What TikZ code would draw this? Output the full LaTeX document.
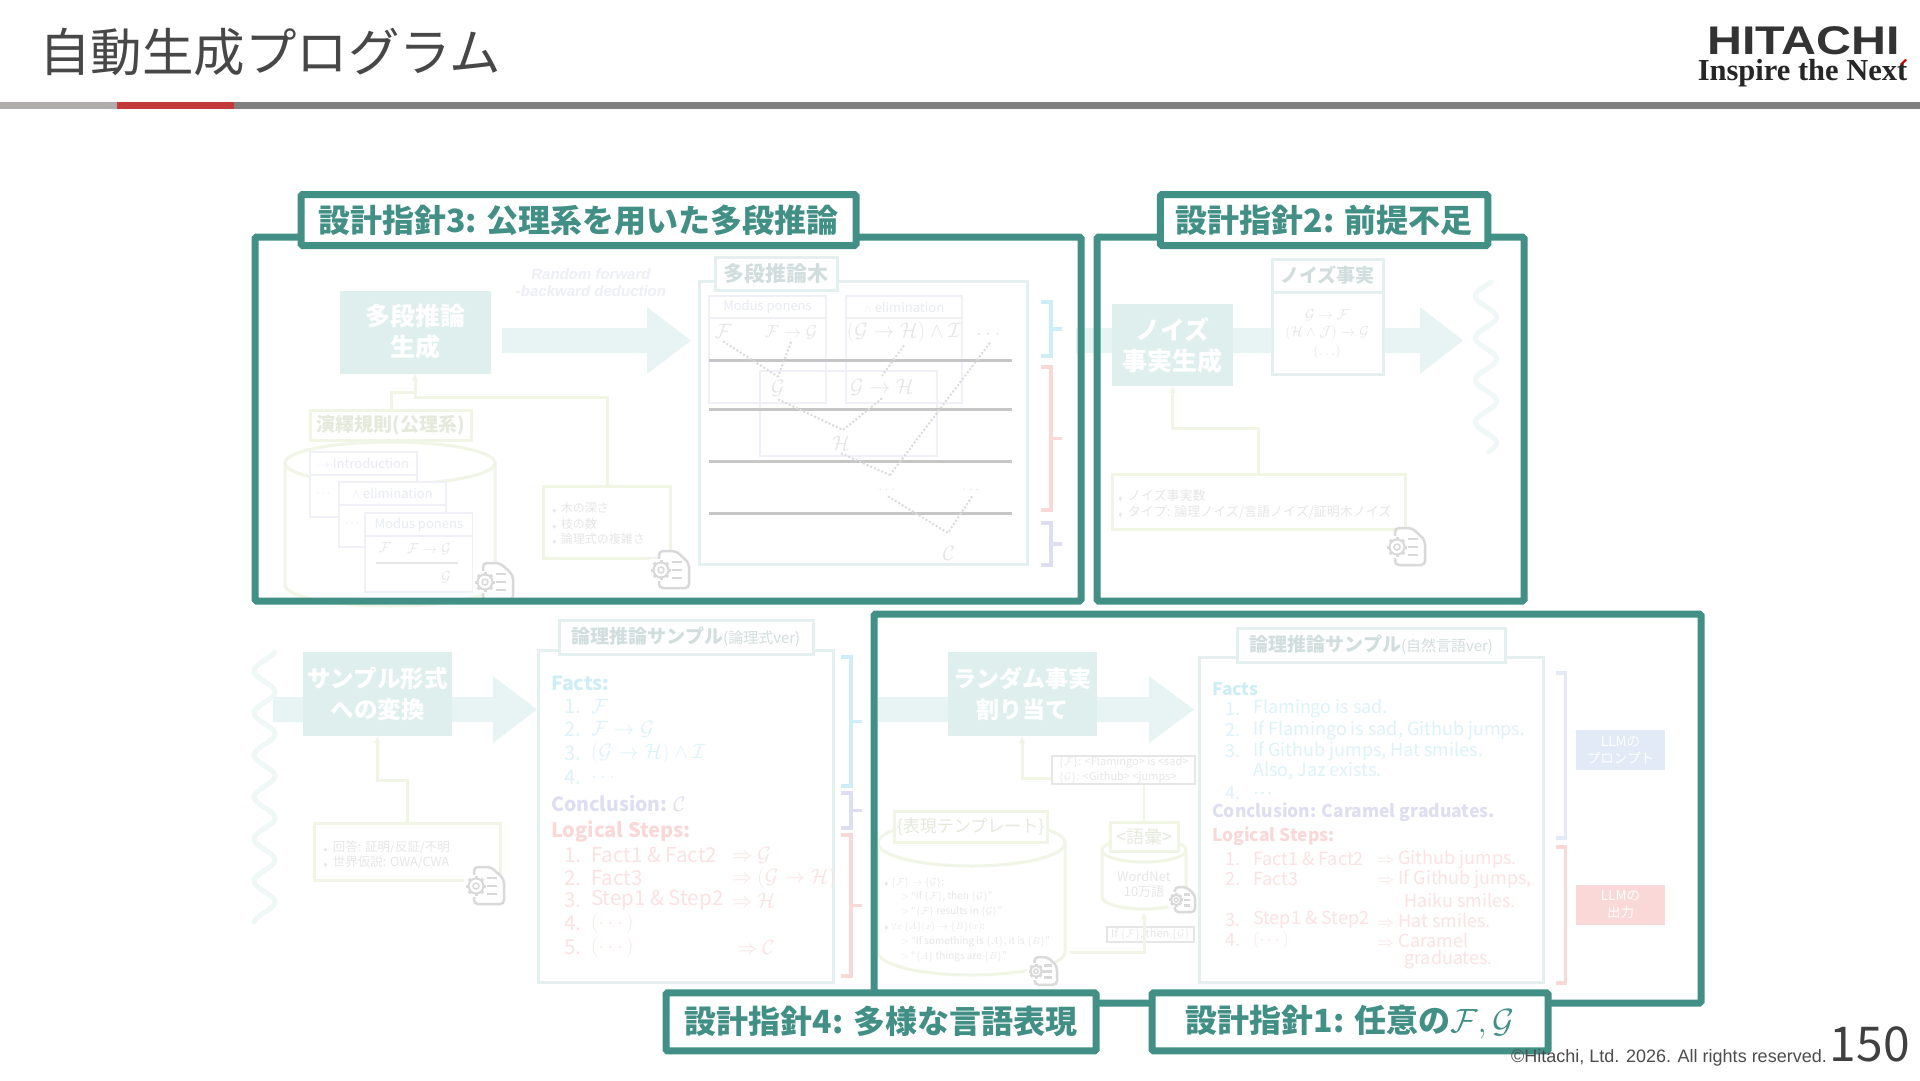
\documentclass[tikz,border=0pt]{standalone}
\usepackage{amsmath,amssymb}
\usepackage{fontspec}
\usepackage{xcolor}
\usepackage{tikz}
\usetikzlibrary{arrows.meta,calc,positioning}
\setmainfont{Noto Sans CJK JP}
\newfontfamily\arialfont{Liberation Sans}
\newfontfamily\timesfont{Liberation Serif}
\definecolor{guideteal}{HTML}{418F85}
\definecolor{procfill}{HTML}{DFEFEE}
\definecolor{flowfill}{HTML}{E8F4F3}
\definecolor{boxline}{HTML}{E4F0EF}
\definecolor{feedgreen}{HTML}{F0F5E6}
\definecolor{paletext}{HTML}{E6E6E6}
\definecolor{cardline}{HTML}{F0F1F8}
\definecolor{cardtext}{HTML}{E8EAF5}
\definecolor{factcyan}{HTML}{CFEDF7}
\definecolor{factline}{HTML}{DDF2F9}
\definecolor{conclav}{HTML}{DEDEF2}
\definecolor{steppink}{HTML}{FBD8D8}
\definecolor{stepline}{HTML}{FCE2E2}
\definecolor{promptblue}{HTML}{E1EAF6}
\definecolor{icongray}{HTML}{D9D9D9}
\definecolor{barred}{HTML}{C23B3A}
\definecolor{barpale}{HTML}{B0ACAC}
\newcommand{\sz}[2]{\fontsize{#1}{#2}\selectfont}
\newcommand{\bulletmark}{{\tiny$\blacklozenge$}}
\newcommand{\blockflow}[4]{\fill[flowfill] (#1,#4-12.5) -- (#2,#4-12.5) -- (#2,#4-33.5) -- (#3,#4) -- (#2,#4+33.5) -- (#2,#4+12.5) -- (#1,#4+12.5) -- cycle;}
\newcommand{\wavecol}[4]{\draw[flowfill!70!white,line width=5,line cap=round] plot[domain=#3:#4,samples=120,smooth] ({#1+10.5*cos((\x-#2)/42*360)},\x);}
\newcommand{\sidebrkt}[4]{\draw[#4,line width=3.5] (#1,#2) -| (#1+10,#3) -- (#1,#3) (#1+10,{(#2+#3)/2}) -- (#1+21,{(#2+#3)/2});}
\newcommand{\drum}[6]{\draw[feedgreen,line width=3,fill=white] (#1,#3) -- (#1,#4) arc[start angle=180,end angle=0,x radius=#5,y radius=#6] -- (#2,#3);
  \draw[feedgreen,line width=3] ({(#1+#2)/2},#3) ellipse[x radius=#5,y radius=#6];}
\tikzset{
  guideframe/.style={guideteal,line width=7,rounded corners=1.5},
  guidelabel/.style={draw=guideteal,line width=7,fill=white,text=guideteal,inner sep=0,rounded corners=1.5,font=\sz{32}{36}\bfseries},
  procbox/.style={fill=procfill,text=white,align=center,inner sep=0,font=\sz{25}{31}\bfseries},
  titlebox/.style={draw=boxline,line width=3,fill=white,text=procfill!85!gray,inner sep=0,font=\sz{#1}{#1}\bfseries},
  bodybox/.style={draw=boxline,line width=3,fill=white,inner sep=0},
  parambox/.style={draw=feedgreen,line width=3,fill=white,inner sep=0},
  feed/.style={feedgreen,line width=3,-{Latex[length=7,width=7]}},
  plainfeed/.style={feedgreen,line width=3},
  greentitle/.style={draw=feedgreen,line width=3,fill=white,text=feedgreen!90!gray,inner sep=0,font=\sz{#1}{#1}},
  note/.style={text=paletext,anchor=west,inner sep=0,font=\sz{#1}{#1}},
  formula/.style={text=paletext,inner sep=3,font=\sz{#1}{#1}},
  cardhead/.style={draw=cardline,line width=1.5,fill=white,text=cardtext,inner sep=0,font=\sz{#1}{#1}},
  cardbody/.style={draw=cardline,line width=1.5,fill=white,inner sep=0},
  slotbox/.style={draw=paletext,line width=1.5,fill=white,text=paletext,inner sep=0,align=left,font=\sz{11}{15}},
  stepline/.style={gray!45,line width=3},
  prooflink/.style={gray!28,line width=2,dotted},
  geardoc/.pic={
    \draw[icongray,line width=2.5,fill=white,rounded corners=4] (10,0) -- (27,0) -- (40,12) -- (40,37) -- (10,37) -- cycle;
    \fill[white] (0,8) rectangle (12,30);
    \foreach \a in {0,45,...,315} \draw[icongray,line width=3] (12,19) ++(\a:7) -- ++(\a:3);
    \draw[icongray,line width=2,fill=white] (12,19) circle[radius=7.5];
    \draw[icongray,line width=1.5] (12,19) circle[radius=3];
    \foreach \y in {11,19,27} \draw[icongray,line width=2.5] (23,\y) -- (33,\y);
  },
}
\begin{document}
\begin{tikzpicture}[x=1pt,y=-1pt,>=Latex]
  \useasboundingbox (0,0) rectangle (1920,1080);
  \fill[white] (0,0) rectangle (1920,1080);

  % header
  \node[anchor=west,inner sep=0,text=black!72,font=\sz{51.5}{52}] (title) at (39,52) {自動生成プログラム};
  \fill[barpale] (0,102) rectangle (117,109);
  \fill[barred] (117,102) rectangle (234,109);
  \fill[gray] (234,102) rectangle (1920,109);
  \node[inner sep=0,text=black!80,font=\arialfont\sz{40}{40}\bfseries] (logotop) at (1803.5,41) {\scalebox{1.21}[1]{HITACHI}};
  \node[inner sep=0,text=black!85,font=\timesfont\sz{30.5}{30.5}\bfseries] (logosub) at (1802.5,73) {Inspire the Next};
  \fill[red!80!black] (1900,64) -- (1905,59) -- (1907,60) -- (1902,65) -- cycle;

  % multi-step tree
  \node[procbox,minimum width=151,minimum height=83] (gentree) at (415,332) {多段推論\\生成};
  \blockflow{502}{647}{691}{340.5}
  \node[inner sep=0,align=center,text=cardtext!80!white,font=\arialfont\sz{15}{17}\bfseries\itshape] (deduct) at (591,283) {Random forward\\-backward deduction};
  \node[bodybox,minimum width=328,minimum height=283] (treebody) at (863,422.5) {};
  \node[titlebox=21,minimum width=122,minimum height=33] (treetitle) at (776,273.5) {多段推論木};
  \node[cardhead=13,minimum width=117,minimum height=22] (mphead) at (767.5,307) {Modus ponens};
  \node[cardbody,minimum width=117,minimum height=85] (mpbody) at (767.5,360.5) {};
  \node[cardhead=13,minimum width=116,minimum height=22] (elhead) at (904,307) {$\land$ elimination};
  \node[cardbody,minimum width=116,minimum height=85] (elbody) at (904,360.5) {};
  \draw[cardline,line width=1.5] (760,371) rectangle (937,456);
  \foreach \y in {360,409,461,513} \draw[stepline] (709,\y) -- (1012,\y);
  \node[formula=20] (tF) at (723,331) {$\mathcal{F}$};
  \node[formula=19] (tFG) at (791,332) {$\mathcal{F}\to\mathcal{G}$};
  \node[formula=20] (tGHI) at (904,332) {$(\mathcal{G}\to\mathcal{H})\land\mathcal{I}$};
  \node[formula=20] (tdotsa) at (990,335) {$\cdots$};
  \node[formula=20] (tG) at (778,388) {$\mathcal{G}$};
  \node[formula=20] (tGH) at (882,387) {$\mathcal{G}\to\mathcal{H}$};
  \node[formula=20] (tH) at (841,443) {$\mathcal{H}$};
  \node[formula=14] (tdotsb) at (888,490) {$\cdots$};
  \node[formula=14] (tdotsc) at (972,490) {$\cdots$};
  \node[formula=20] (tC) at (949,553) {$\mathcal{C}$};
  \coordinate (tjoina) at (843,430);
  \coordinate (tjoinb) at (890,475);
  \coordinate (tjoinc) at (948,533);
  \draw[prooflink] (tF.south) -- (tG.north);
  \draw[prooflink] (tFG.south) -- (tG.north);
  \draw[prooflink] (tGHI.south) -- (tGH.north);
  \draw[prooflink] (tG.south) -- (tjoina);
  \draw[prooflink] (tGH.south) -- (tjoina);
  \draw[prooflink] (tH.south) -- (tjoinb);
  \draw[prooflink] (tdotsa.south) -- (tjoinb);
  \draw[prooflink] (tdotsb.south) -- (tjoinc);
  \draw[prooflink] (tdotsc.south) -- (tjoinc);
  \sidebrkt{1041}{302}{356}{factcyan}
  \sidebrkt{1041}{367}{510}{steppink}
  \sidebrkt{1041}{523}{565}{conclav}

  % rules and tree parameters
  \drum{285}{495}{463}{585}{105}{21}
  \node[cardhead=13,minimum width=107,minimum height=23] (inhead) at (363.5,463.5) {$\to$ Introduction};
  \node[cardbody,minimum width=107,minimum height=42] (inbody) at (363.5,496) {};
  \node[note=13,text=cardtext] (indots) at (316,494) {$\cdots$};
  \node[cardhead=13,minimum width=107,minimum height=23] (elcard) at (392.5,493.5) {$\land$ elimination};
  \node[cardbody,minimum width=107,minimum height=42] (elcardbody) at (392.5,526) {};
  \node[note=13,text=cardtext] (eldots) at (345,524) {$\cdots$};
  \node[cardhead=13,minimum width=107.5,minimum height=23] (mpcard) at (418.8,524.5) {Modus ponens};
  \node[cardbody,minimum width=107.5,minimum height=56] (mpcardbody) at (418.8,564) {};
  \node[formula=14] (cF) at (385,548) {$\mathcal{F}$};
  \node[formula=14] (cFG) at (429,549) {$\mathcal{F}\to\mathcal{G}$};
  \node[formula=14] (cG) at (446,577) {$\mathcal{G}$};
  \draw[paletext,line width=1.5] (376,563) -- (458,563);
  \node[greentitle=19,minimum width=161,minimum height=30] (ruletitle) at (391,425) {\bfseries 演繹規則(公理系)};
  \node[parambox,minimum width=127,minimum height=72] (treeparam) at (607,522) {};
  \foreach \n/\y/\t in {a/508/木の深さ,b/524/枝の数,c/539/論理式の複雑さ}
    \node[note=12] (treeparam\n) at (552,\y) {\bulletmark\hspace{4pt}\t};
  \coordinate (treebend) at (0,397);
  \coordinate (rulebend) at (0,392);
  \draw[plainfeed] (ruletitle.north) -- (ruletitle.north |- rulebend) -- (gentree.south |- rulebend);
  \draw[feed] (treeparam.north) -- (treeparam.north |- treebend) -| (gentree.south);
  \pic at (473,563) {geardoc};
  \pic at (649,551) {geardoc};

  % noise
  \blockflow{1076}{1420}{1463}{340.5}
  \node[procbox,minimum width=121,minimum height=82] (gennoise) at (1172.5,345) {ノイズ\\事実生成};
  \node[bodybox,minimum width=111,minimum height=82] (noisebody) at (1327.5,333) {};
  \node[titlebox=19,minimum width=111,minimum height=33] (noisetitle) at (1327.5,275.5) {ノイズ事実};
  \node[formula=14] (noisea) at (1327,315) {$\mathcal{G}\to\mathcal{F}$};
  \node[formula=14] (noiseb) at (1327,333) {$(\mathcal{H}\land\mathcal{J})\to\mathcal{G}$};
  \node[formula=14] (noisec) at (1327,352) {$(\ldots)$};
  \wavecol{1486}{317}{282}{452}
  \node[parambox,minimum width=293,minimum height=55] (noiseparam) at (1258.5,501.5) {};
  \foreach \n/\y/\t in {a/496/{ノイズ事実数},b/512/{タイプ: 論理ノイズ/言語ノイズ/証明木ノイズ}}
    \node[note=13] (noiseparam\n) at (1118,\y) {\bulletmark\hspace{5pt}\t};
  \coordinate (noisebend) at (0,428);
  \draw[feed] (noiseparam.north) -- (noiseparam.north |- noisebend) -| (gennoise.south);
  \pic at (1385,528) {geardoc};

  % sample format
  \wavecol{264.5}{692}{652}{922}
  \blockflow{273}{493}{537}{709.5}
  \node[procbox,minimum width=149,minimum height=84,font=\sz{23.5}{31}\bfseries] (genform) at (377.5,694) {サンプル形式\\への変換};
  \node[parambox,minimum width=186,minimum height=57] (formparam) at (407,851.5) {};
  \foreach \n/\y/\t in {a/847/{回答: 証明/反証/不明},b/862/{世界仮説: OWA/CWA}}
    \node[note=12.5] (formparam\n) at (323,\y) {\bulletmark\hspace{5pt}\t};
  \coordinate (formbend) at (0,780);
  \draw[feed] (formparam.north) -- (formparam.north |- formbend) -| (genform.south);
  \pic at (464,867) {geardoc};

  \node[bodybox,minimum width=295,minimum height=332] (logicbody) at (685.5,816) {};
  \node[titlebox=19,minimum width=254,minimum height=34] (logictitle) at (686,637) {論理推論サンプル{\mdseries\sz{15}{15}(論理式ver)}};
  \node[note=19,text=factcyan,font=\sz{19.5}{19.5}\bfseries] (lfacts) at (551,683) {Facts:};
  \foreach \n/\y/\t in {1/706/$\mathcal{F}$,2/729/$\mathcal{F}\to\mathcal{G}$,3/753/$(\mathcal{G}\to\mathcal{H})\land\mathcal{I}$,4/777/$\ldots$} {
    \node[note=20,text=factline] (lfnum\n) at (564,\y) {\n.};
    \node[note=20,text=factline] (lfact\n) at (591,\y) {\t};
  }
  \node[note=19,text=conclav,font=\sz{19.5}{19.5}\bfseries] (lconc) at (551,804) {Conclusion: $\mathcal{C}$};
  \node[note=19,text=steppink,font=\sz{20}{20}\bfseries] (lsteps) at (551,832) {Logical Steps:};
  \foreach \n/\y/\t in {1/855/Fact1 \& Fact2,2/878/Fact3,3/900/Step1 \& Step2,4/923/$(\cdots)$,5/947/$(\cdots)$} {
    \node[note=20.5,text=stepline] (lsnum\n) at (564,\y) {\n.};
    \node[note=20.5,text=stepline] (lstep\n) at (591,\y) {\t};
  }
  \foreach \n/\y/\t in {1/855/$\mathcal{G}$,2/878/$(\mathcal{G}\to\mathcal{H})$,3/900/$\mathcal{H}$}
    \node[note=20,text=stepline] (lres\n) at (732,\y) {$\Rightarrow$ \t};
  \node[note=20,text=stepline] (lres5) at (737,947) {$\Rightarrow$ $\mathcal{C}$};
  \sidebrkt{841}{657}{786}{factcyan}
  \sidebrkt{841}{793}{828}{conclav}
  \sidebrkt{841}{835}{976}{steppink}

  % natural language
  \blockflow{878}{1149}{1194}{709.5}
  \node[procbox,minimum width=149,minimum height=84,font=\sz{23}{31}\bfseries] (genfact) at (1022,694) {ランダム事実\\割り当て};
  \drum{878}{1065}{843}{952}{93.5}{23}
  \node[greentitle=17,minimum width=153,minimum height=31] (tmpltitle) at (970.5,826.5) {\{表現テンプレート\}};
  \foreach \n/\y/\x/\t in {a/883/884/{\bulletmark\ $\{\mathcal{F}\}\to\{\mathcal{G}\}$:},b/897/901/{$>$ ``If $\{\mathcal{F}\}$, then $\{\mathcal{G}\}$''},c/912/901/{$>$ ``$\{\mathcal{F}\}$ results in $\{\mathcal{G}\}$''},d/927/884/{\bulletmark\ $\forall x\,\{A\}(x)\to\{B\}(x)$:},e/942/901/{$>$ ``If something is $\{A\}$, it is $\{B\}$''},f/957/901/{$>$ ``$\{A\}$ things are $\{B\}$''}}
    \node[note=10] (tmpl\n) at (\x,\y) {\t};
  \drum{1102}{1186}{850}{897}{42}{12}
  \node[greentitle=18,minimum width=68,minimum height=29] (vocabtitle) at (1144,836.5) {<語彙>};
  \node[inner sep=0,align=center,text=paletext,font=\sz{13}{15}] (wordnet) at (1144,884) {WordNet\\10万語};
  \pic[scale=.68] at (1168,887) {geardoc};
  \pic[scale=.75] at (1027,957) {geardoc};
  \node[slotbox,minimum width=143,minimum height=28] (slotfact) at (1123.5,770) {$\{\mathcal{F}\}$: <Flamingo> is <sad>\\$\{\mathcal{G}\}$: <Github> <jumps>};
  \node[slotbox,minimum width=87,minimum height=15] (slottmpl) at (1150.5,934.5) {If $\{\mathcal{F}\}$, then $\{\mathcal{G}\}$};
  \coordinate (tmplout) at (1069.5,952);
  \coordinate (wordin) at (1144,912);
  \coordinate (factbend) at (0,778);
  \draw[plainfeed,line width=2] (vocabtitle.north) -- (vocabtitle.north |- slotfact.south);
  \draw[feed] (tmplout) -| (wordin);
  \draw[feed] (slotfact.west |- factbend) -| (genfact.south);

  \node[bodybox,minimum width=343.5,minimum height=325] (natbody) at (1371.3,819.5) {};
  \node[titlebox=19,minimum width=267.5,minimum height=34] (nattitle) at (1371.3,645) {論理推論サンプル{\mdseries\sz{15}{15}(自然言語ver)}};
  \node[note=18,text=factcyan,font=\sz{17.5}{18}\bfseries] (nfacts) at (1212,689) {Facts};
  \foreach \n/\y/\m/\t in {a/709/1./Flamingo is sad.,b/730/2./{If Flamingo is sad, Github jumps.},c/751/3./{If Github jumps, Hat smiles.},d/771//{Also, Jaz exists.},e/793/4./\ldots} {
    \node[note=18,text=factline] (nfnum\n) at (1225,\y) {\m};
    \node[note=18,text=factline] (nfact\n) at (1253,\y) {\t};
  }
  \node[note=18,text=conclav,font=\sz{17.5}{18}\bfseries] (nconc) at (1212,812) {Conclusion: Caramel graduates.};
  \node[note=18,text=steppink,font=\sz{17.5}{18}\bfseries] (nsteps) at (1212,836) {Logical Steps:};
  \foreach \n/\y/\m/\t in {a/859/1./Fact1 \& Fact2,b/879/2./Fact3,c/920/3./Step1 \& Step2,d/940/4./$(\cdots)$} {
    \node[note=18,text=stepline] (nsnum\n) at (1225,\y) {\m};
    \node[note=18,text=stepline] (nstep\n) at (1253,\y) {\t};
  }
  \foreach \n/\y/\t in {a/859/Github jumps.,b/879/{If Github jumps,},c/920/Hat smiles.,d/940/Caramel}
    \node[note=18,text=stepline] (nres\n) at (1377,\y) {$\Rightarrow$ \t};
  \node[note=18,text=stepline] (nresb2) at (1404,900) {Haiku smiles.};
  \node[note=18,text=stepline] (nresd2) at (1404,960) {graduates.};
  \draw[promptblue,line width=3.5] (1556,673) -| (1565.5,838) -- (1556,838);
  \draw[steppink,line width=3.5] (1556,847) -| (1565.5,983) -- (1556,983);
  \node[fill=promptblue,text=white,minimum width=89,minimum height=40,inner sep=0,align=center,font=\sz{13.5}{17}] (prompt) at (1620.5,750) {LLMの\\プロンプト};
  \node[fill=steppink,text=white,minimum width=89,minimum height=40,inner sep=0,align=center,font=\sz{13.5}{17}] (output) at (1620.5,905) {LLMの\\出力};

  % design guidelines
  \draw[guideframe] (255,237) rectangle (1081,601);
  \draw[guideframe] (1097,237) rectangle (1524,601);
  \draw[guideframe] (874,614) rectangle (1701,1003);
  \node[guidelabel,minimum width=555,minimum height=51] (guidethree) at (578.5,220) {設計指針3: 公理系を用いた多段推論};
  \node[guidelabel,minimum width=327.5,minimum height=51] (guidetwo) at (1324,220) {設計指針2: 前提不足};
  \node[guidelabel,minimum width=430,minimum height=58] (guidefour) at (881,1021.8) {設計指針4: 多様な言語表現};
  \node[guidelabel,minimum width=396,minimum height=58] (guideone) at (1350,1021.8) {設計指針1: 任意の\scalebox{1.35}{\sz{24}{24}$\mathcal{F},\mathcal{G}$}};

  % footer
  \node[anchor=east,inner sep=0,text=black!70,font=\arialfont\sz{18}{18}] (copyright) at (1827,1058) {©Hitachi, Ltd. 2026. All rights reserved.};
  \node[anchor=east,inner sep=0,text=black!75,font=\sz{48}{48}\mdseries] (pageno) at (1910,1044) {150};
\end{tikzpicture}
\end{document}
